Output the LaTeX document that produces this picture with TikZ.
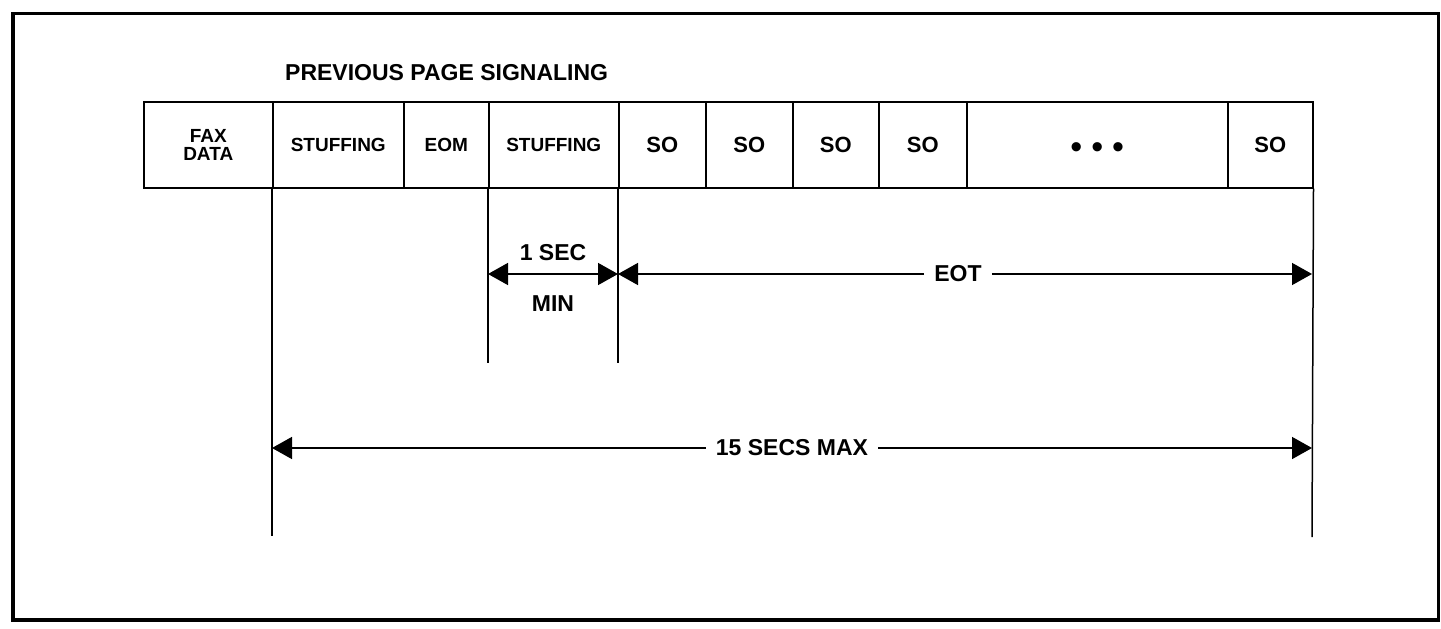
\documentclass[tikz,border=0pt]{standalone}
\usepackage{fontspec}
\setmainfont{Liberation Sans}
\usetikzlibrary{arrows.meta}
\begin{document}
\begin{tikzpicture}[x=1pt,y=-1pt,
  frame/.style={line width=3.5pt},
  cell/.style={draw, line width=1.5pt, minimum height=86pt, inner sep=0pt,
    anchor=north west, align=center, font=\bfseries\fontsize{19}{18}\selectfont},
  socell/.style={cell, font=\bfseries\fontsize{22}{22}\selectfont},
  guide/.style={line width=1.5pt},
  dim/.style={line width=1.5pt, {Triangle[length=20pt,width=22pt]}-{Triangle[length=20pt,width=22pt]}},
  half/.style={line width=1.5pt, -{Triangle[length=20pt,width=22pt]}},
  lbl/.style={font=\bfseries\fontsize{23}{23}\selectfont, inner sep=0pt},
  gap/.style={lbl, inner xsep=10pt},
  dotsfont/.style={font=\fontsize{34}{34}\selectfont, inner sep=0pt}
]
\useasboundingbox (0,0) rectangle (1441,629);
\draw[frame] (13,13.5) rectangle (1438.5,620);

\node[lbl, anchor=west] (title) at (285,72.5) {PREVIOUS PAGE SIGNALING};

\node[cell, minimum width=129pt] (c1) at (143,101) {FAX\\DATA};
\node[cell, minimum width=131pt] (c2) at (272,101) {STUFFING};
\node[cell, minimum width=85pt]  (c3) at (403,101) {EOM};
\node[cell, minimum width=130pt] (c4) at (488,101) {STUFFING};
\node[socell, minimum width=87pt] (c5) at (618,101) {SO};
\node[socell, minimum width=87pt] (c6) at (705,101) {SO};
\node[socell, minimum width=86pt] (c7) at (792,101) {SO};
\node[socell, minimum width=88pt] (c8) at (878,101) {SO};
\node[cell, minimum width=261pt] (c9) at (966,101) {};
\node[dotsfont] (dots) at ([yshift=-6pt]c9.center) {•\hspace{9pt}•\hspace{9pt}•};
\node[socell, minimum width=85pt] (c10) at (1227,101) {SO};

% guide lines
\coordinate (g2) at (272,536);
\coordinate (g4) at (488,363);
\coordinate (g5) at (618,363);
\coordinate (g10) at (1312,537);
\draw[guide] (c2.south west) -- (g2);
\draw[guide] (c4.south west) -- (g4);
\draw[guide] (c5.south west) -- (g5);
\draw[guide] (c10.south east) -- (g10);

% 1 SEC MIN
\coordinate (s1) at (488,274);
\coordinate (s2) at (618,274);
\draw[dim] (s1) -- (s2);
\node[lbl] (onesec) at (553,253) {1 SEC};
\node[lbl] (min) at (553,304) {MIN};

% EOT
\coordinate (e1) at (618,274);
\coordinate (e2) at (1312,274);
\node[gap] (eot) at (958,274) {EOT};
\draw[half] (eot.west) -- (e1);
\draw[half] (eot.east) -- (e2);

% 15 SECS MAX
\coordinate (m1) at (272,448);
\coordinate (m2) at (1312,448);
\node[gap] (max) at (792,448) {15 SECS MAX};
\draw[half] (max.west) -- (m1);
\draw[half] (max.east) -- (m2);
\end{tikzpicture}
\end{document}
